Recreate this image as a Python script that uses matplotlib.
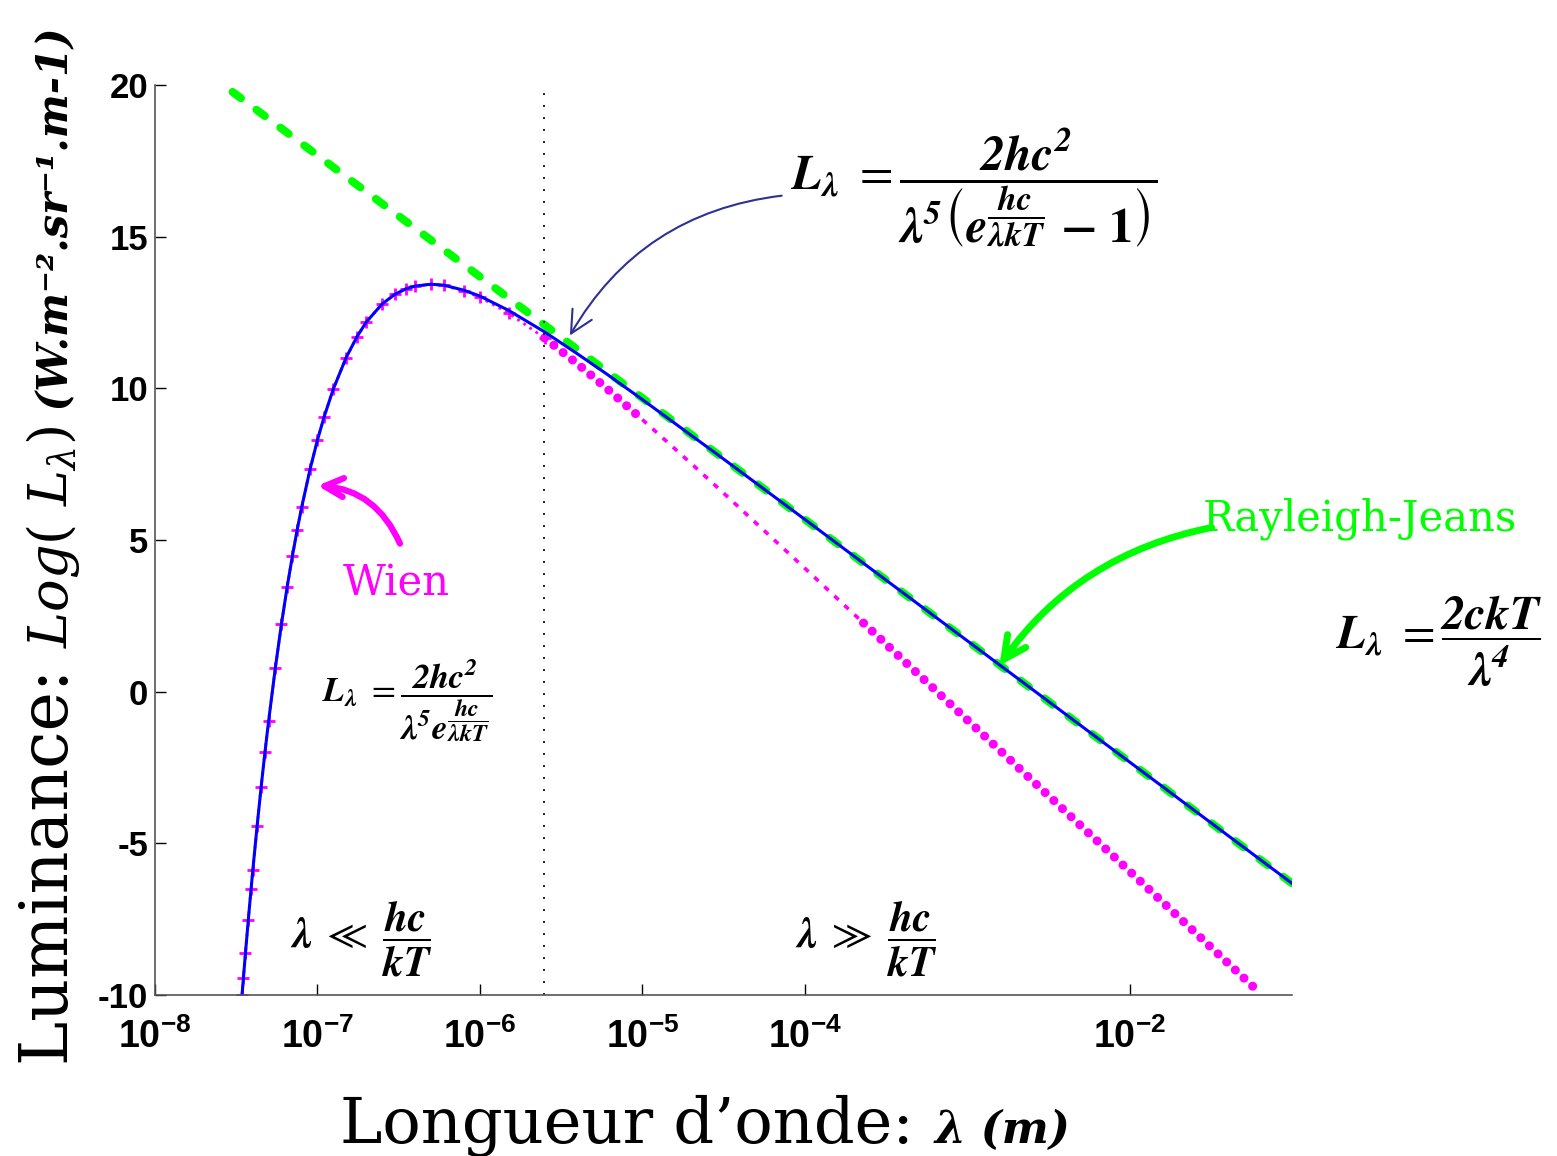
import numpy as np
import matplotlib
matplotlib.use('Agg')
import matplotlib.pyplot as plt
from matplotlib.ticker import NullLocator

plt.rcParams['axes.unicode_minus'] = False
plt.rcParams['mathtext.fontset'] = 'custom'
plt.rcParams['mathtext.rm'] = 'Liberation Sans'
plt.rcParams['mathtext.bf'] = 'Liberation Sans:bold'
plt.rcParams['font.family'] = ['Liberation Sans', 'DejaVu Sans']

# longueurs d'onde (m) et log10 de la luminance
planck_lam = [3.43e-8, 3.5e-8, 3.6e-8, 3.75e-8, 3.9e-8, 4e-8, 4.25e-8, 4.5e-8, 4.75e-8,
              5e-8, 5.5e-8, 6e-8, 6.5e-8, 7e-8, 7.5e-8, 8e-8, 9e-8, 1e-7, 1.1e-7,
              1.25e-7, 1.5e-7, 1.75e-7, 2e-7, 2.5e-7, 3e-7, 3.5e-7, 4e-7, 5e-7, 6e-7,
              8e-7, 1e-6, 1.5e-6, 2.5e-6, 4e-6, 6e-6, 1e-5, 2e-5, 3e-5, 1e-4, 3e-4,
              1e-3, 1e-2, 1e-1]
planck_log = [-10.0, -9.43, -8.63, -7.52, -6.50, -5.87, -4.42, -3.13, -1.99,
              -0.97, 0.78, 2.23, 3.44, 4.46, 5.34, 6.09, 7.33, 8.30, 9.07,
              9.97, 11.01, 11.70, 12.19, 12.78, 13.10, 13.28, 13.37, 13.43, 13.40,
              13.23, 13.04, 12.57, 11.86, 11.13, 10.48, 9.63, 8.45, 7.76, 5.68, 3.77,
              1.68, -2.32, -6.32]

wien_lam = [3.43e-8, 3.5e-8, 3.6e-8, 3.75e-8, 3.9e-8, 4e-8, 4.25e-8, 4.5e-8, 4.75e-8,
            5e-8, 5.5e-8, 6e-8, 6.5e-8, 7e-8, 7.5e-8, 8e-8, 9e-8, 1e-7, 1.1e-7,
            1.25e-7, 1.5e-7, 1.75e-7, 2e-7, 2.5e-7, 3e-7, 3.5e-7, 4e-7, 5e-7, 6e-7,
            8e-7, 1e-6, 1.5e-6, 2.5e-6, 4e-6, 6e-6, 1e-5, 2e-5, 3e-5, 1e-4, 2.3e-4,
            1e-3, 1e-2, 6.3e-2]
wien_log = [-10.0, -9.43, -8.63, -7.52, -6.50, -5.87, -4.42, -3.13, -1.99,
            -0.97, 0.78, 2.23, 3.44, 4.46, 5.34, 6.09, 7.33, 8.30, 9.07,
            9.97, 11.01, 11.70, 12.19, 12.78, 13.10, 13.28, 13.37, 13.43, 13.39,
            13.21, 13.00, 12.48, 11.66, 10.80, 10.01, 8.97, 7.52, 6.66, 4.07, 2.26,
            -0.93, -5.92, -9.92]

rj_lam = [3e-8, 1e-6, 1e-4, 1e-2, 1e-1]
rj_log = [19.77, 13.68, 5.68, -2.32, -6.32]

lam_seuil = 2.48e-6  # hc/kT

xticks = [1e-8, 1e-7, 1e-6, 1e-5, 1e-4, 1e-2]
xexp = ['-8', '-7', '-6', '-5', '-4', '-2']
yticks = [-10, -5, 0, 5, 10, 15, 20]

MAG = '#ff00ff'
GRN = '#00ff00'

fig = plt.figure(figsize=(15.57, 11.56), dpi=100)
ax = fig.add_axes([0.0996, 0.1393, 0.7302, 0.7872])

# Rayleigh-Jeans
ax.plot(rj_lam, rj_log, color=GRN, lw=5.8, linestyle=(0, (1.3, 2.4)),
        dash_capstyle='round')

# Wien
wl = np.array(wien_lam)
wv = np.array(wien_log)
m = wl <= 2.5e-6
ax.plot(wl[m], wv[m], ':', color=MAG, lw=2, marker='+', ms=9, mew=2)
m = (wl >= 2.5e-6) & (wl <= 1e-5)
ax.plot(wl[m], wv[m], color=MAG, lw=6.5, linestyle=(0, (0.01, 1.3)),
        dash_capstyle='round')
m = (wl >= 1e-5) & (wl <= 2.3e-4)
ax.plot(wl[m], wv[m], color=MAG, lw=2.6, linestyle=(0, (1.6, 2.2)))
m = wl >= 2.3e-4
ax.plot(wl[m], wv[m], color=MAG, lw=6.5, linestyle=(0, (0.01, 1.3)),
        dash_capstyle='round')

# Planck
ax.plot(planck_lam, planck_log, color='#0000ff', lw=2.2)

ax.axvline(lam_seuil, ymax=0.997, color='k', lw=1.2, linestyle=(0, (1.2, 6)))

ax.set_xscale('log')
ax.set_xlim(1e-8, 1e-1)
ax.set_ylim(-10, 20)
ax.set_xticks(xticks)
ax.set_xticklabels([r'$\mathbf{10^{%s}}$' % e for e in xexp])
ax.xaxis.set_minor_locator(NullLocator())
ax.set_yticks(yticks)
ax.set_yticklabels([str(v) for v in yticks], fontweight='bold')
ax.tick_params(direction='in', length=8, width=1, colors='k')
ax.tick_params(axis='x', pad=17, labelsize=27)
ax.tick_params(axis='y', pad=5, labelsize=25)
for s in ['top', 'right']:
    ax.spines[s].set_visible(False)
for s in ['left', 'bottom']:
    ax.spines[s].set_color('#555555')
    ax.spines[s].set_linewidth(1.2)

# formules
ftxt = dict(math_fontfamily='stix', ha='left', va='baseline')
ax.text(8.09e-5, 16.52,
        r'$\mathbfit{L_{\lambda}}\ =\dfrac{\mathbfit{2hc^{2}}}'
        r'{\mathbfit{\lambda^{5}}\left(\mathbfit{e^{\dfrac{hc}{\lambda kT}}}\ \mathbf{-\ 1}\right)}$',
        fontsize=35, **ftxt)
ax.text(1.066e-7, -0.3,
        r'$\mathbfit{L_{\lambda}}\ =\dfrac{\mathbfit{2hc^{2}}}'
        r'{\mathbfit{\lambda^{5}e^{\dfrac{hc}{\lambda kT}}}}$',
        fontsize=25, **ftxt)
ax.text(0.183, 1.42,
        r'$\mathbfit{L_{\lambda}}\ =\dfrac{\mathbfit{2ckT}}{\mathbfit{\lambda^{4}}}$',
        fontsize=34, **ftxt)
ax.text(6.78e-8, -8.47,
        r'$\mathbfit{\lambda}\ \ll\ \dfrac{\mathbfit{hc}}{\mathbfit{kT}}$',
        fontsize=30, **ftxt)
ax.text(8.67e-5, -8.47,
        r'$\mathbfit{\lambda}\ \gg\ \dfrac{\mathbfit{hc}}{\mathbfit{kT}}$',
        fontsize=30, **ftxt)

ax.text(0.0281, 5.31, 'Rayleigh-Jeans', color=GRN, family='DejaVu Serif',
        fontsize=30, ha='left', va='baseline')
ax.text(1.435e-7, 3.17, 'Wien', color=MAG, family='DejaVu Serif',
        fontsize=30, ha='left', va='baseline')

# fleches
ax.annotate('', xy=(3.58e-6, 11.74), xytext=(7.21e-5, 16.35),
            arrowprops=dict(arrowstyle='->', color='#2e3192', lw=1.5,
                            connectionstyle='arc3,rad=0.25',
                            shrinkA=0, shrinkB=0, mutation_scale=40))
ax.annotate('', xy=(1.58e-3, 0.86), xytext=(0.032, 5.41),
            arrowprops=dict(arrowstyle='->', color=GRN, lw=5,
                            connectionstyle='arc3,rad=0.2',
                            shrinkA=0, shrinkB=0, mutation_scale=40))
ax.annotate('', xy=(1.0e-7, 6.79), xytext=(3.22e-7, 4.88),
            arrowprops=dict(arrowstyle='->', color=MAG, lw=4.5,
                            connectionstyle='arc3,rad=0.3',
                            shrinkA=0, shrinkB=0, mutation_scale=34))

# titres des axes, assembles morceau par morceau
r = fig.canvas.get_renderer()
W, H = fig.bbox.width, fig.bbox.height

y = 91 / H
for s, kw in [('Luminance: ', dict(family='DejaVu Serif', fontsize=48)),
              (r'$Log(\ L_{\lambda})$', dict(math_fontfamily='dejavuserif', fontsize=39)),
              (' (W.m⁻².sr⁻¹.m-1)', dict(family='DejaVu Serif', fontsize=30,
                                         style='italic', weight='bold'))]:
    t = fig.text(68 / W, y, s, rotation=90, rotation_mode='anchor',
                 ha='left', va='baseline', **kw)
    y = t.get_window_extent(r).y1 / H

x = 340 / W
for s, kw in [('Longueur d’onde: ', dict(family='DejaVu Serif', fontsize=46)),
              ('λ (m)', dict(family='DejaVu Serif', fontsize=32,
                             style='italic', weight='bold'))]:
    t = fig.text(x, 13 / H, s, ha='left', va='baseline', **kw)
    x = t.get_window_extent(r).x1 / W

fig.savefig('out.png', dpi=100)
